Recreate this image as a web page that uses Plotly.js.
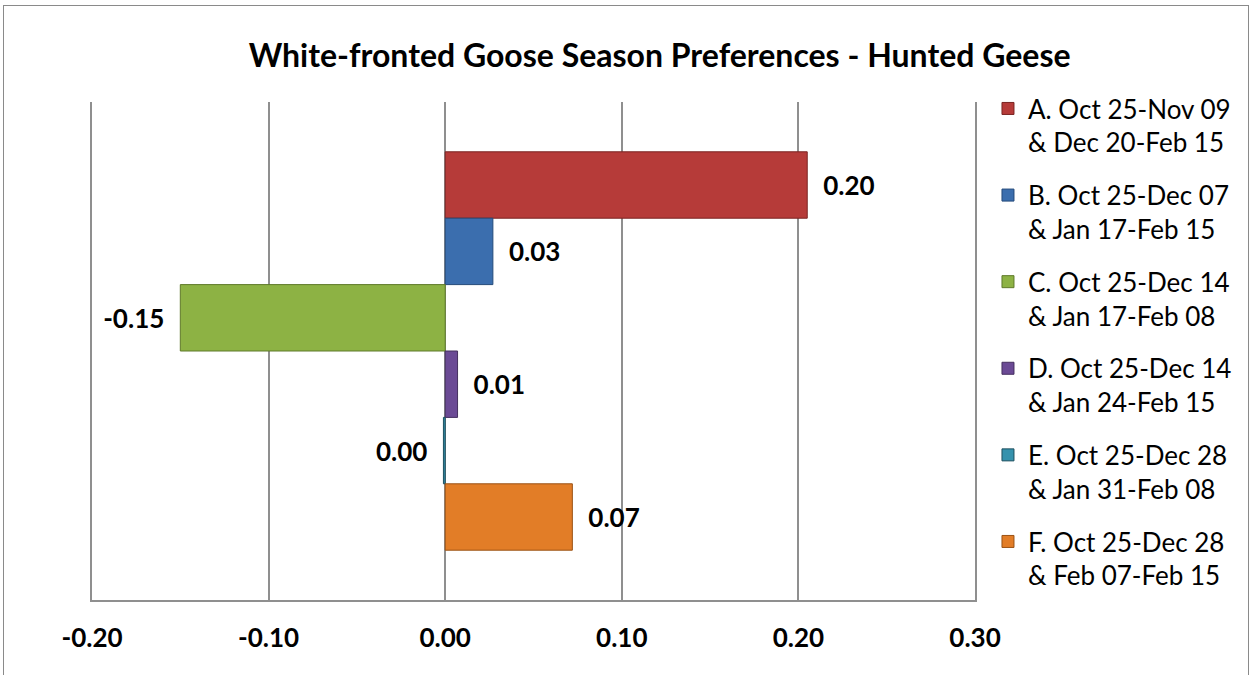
<!DOCTYPE html>
<html>
<head>
<meta charset="utf-8">
<script src="https://cdn.plot.ly/plotly-3.0.1.min.js"></script>
<style>
  html, body { margin: 0; padding: 0; background: #ffffff; }
  #wrap { position: relative; width: 1254px; height: 675px; overflow: hidden; }
  #chart { position: absolute; left: 0; top: 0; width: 1254px; height: 675px; }
  #frame { position: absolute; left: 3px; top: 5px; width: 1246px; height: 720px;
           border: 1.5px solid #8a8a8a; box-sizing: border-box; pointer-events: none; }
</style>
</head>
<body>
<div id="wrap">
  <div id="chart"></div>
  <div id="frame"></div>
</div>
<script>
// ---- data ----
const seriesNames = [
  "A. Oct 25-Nov 09<br>& Dec 20-Feb 15",
  "B. Oct 25-Dec 07<br>& Jan 17-Feb 15",
  "C. Oct 25-Dec 14<br>& Jan 17-Feb 08",
  "D. Oct 25-Dec 14<br>& Jan 24-Feb 15",
  "E. Oct 25-Dec 28<br>& Jan 31-Feb 08",
  "F. Oct 25-Dec 28<br>& Feb 07-Feb 15"
];
const seriesValues = [0.205, 0.027, -0.150, 0.007, -0.001, 0.072];
const category = ["Hunted Geese"];
const tickValues = [-0.20, -0.10, 0.00, 0.10, 0.20, 0.30];
const tickLabels = ["-0.20", "-0.10", "0.00", "0.10", "0.20", "0.30"];

// ---- styles ----
const fillColors = ["#b63b39", "#3b6eae", "#8db244", "#6b4a95", "#3592ad", "#e27d27"];
const lineColors = ["#7a2422", "#244a7a", "#5f7a2a", "#45305f", "#1e4f5e", "#9a5214"];

const PAD = "\u2002";
function labelFor(v) {
  let s = v.toFixed(2);
  if (s === "-0.00") s = "0.00";
  return v < 0 ? s + PAD : PAD + s;
}

const traces = seriesNames.map((name, i) => ({
  type: "bar",
  orientation: "h",
  name: name,
  legendgroup: "g" + i,
  y: category,
  x: [seriesValues[i]],
  text: [labelFor(seriesValues[i])],
  textposition: "outside",
  cliponaxis: false,
  constraintext: "none",
  textfont: { family: "Lato, sans-serif", size: 26, color: "#000000", weight: "bold" },
  marker: { color: fillColors[i], line: { color: lineColors[i], width: 1 } },
  hoverinfo: "x+name"
}));

const layout = {
  width: 1254,
  height: 675,
  margin: { l: 92, r: 279, t: 102, b: 75 },
  paper_bgcolor: "#ffffff",
  plot_bgcolor: "#ffffff",
  barmode: "group",
  bargap: 0.2,
  bargroupgap: 0,
  title: {
    text: "<b>White-fronted Goose Season Preferences - Hunted Geese</b>",
    font: { family: "Lato, sans-serif", size: 32, color: "#000000" },
    xref: "container", x: 0.526, xanchor: "center",
    yref: "container", y: 0.918, yanchor: "middle"
  },
  xaxis: {
    range: [-0.20, 0.30],
    tickmode: "array",
    tickvals: tickValues,
    ticktext: tickLabels,
    showgrid: true,
    gridcolor: "#8f8f8f",
    gridwidth: 1.5,
    zeroline: false,
    showline: true,
    linecolor: "#8f8f8f",
    linewidth: 2,
    ticks: "",
    ticklabelstandoff: 14,
    tickfont: { family: "Lato, sans-serif", size: 26, color: "#000000", weight: "bold" },
    fixedrange: true
  },
  yaxis: {
    autorange: "reversed",
    showticklabels: false,
    showgrid: false,
    zeroline: false,
    showline: true,
    mirror: true,
    linecolor: "#8f8f8f",
    linewidth: 1.5,
    ticks: "",
    fixedrange: true
  },
  showlegend: true,
  legend: {
    x: 1.0147, xanchor: "left",
    y: 1.034, yanchor: "top",
    maxheight: 660,
    traceorder: "grouped",
    tracegroupgap: 16,
    valign: "top",
    font: { family: "Lato, sans-serif", size: 26, color: "#000000" },
    bgcolor: "rgba(0,0,0,0)"
  }
};

Plotly.newPlot("chart", traces, layout, { displayModeBar: false });
</script>
</body>
</html>
